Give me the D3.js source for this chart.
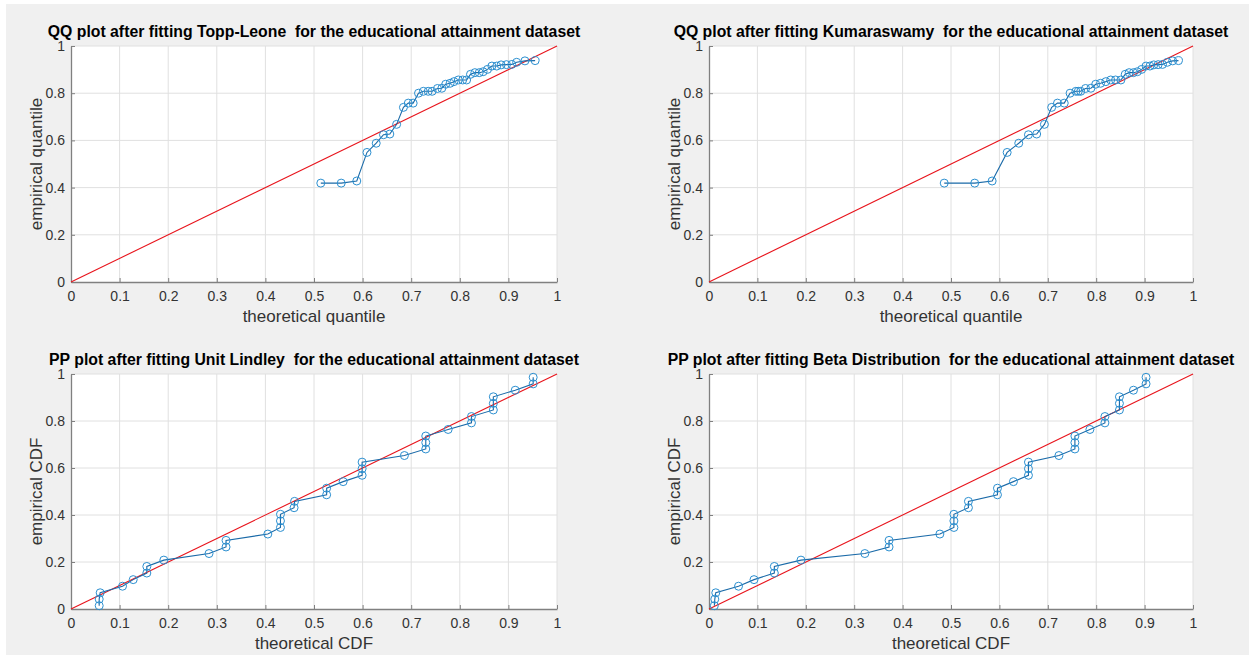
<!DOCTYPE html>
<html>
<head>
<meta charset="utf-8">
<script src="https://cdn.jsdelivr.net/npm/d3@7"></script>
<style>
  html, body { margin: 0; padding: 0; background: #ffffff; }
  svg { display: block; }
  text { font-family: "Liberation Sans", Arial, Helvetica, sans-serif; }
</style>
</head>
<body>
<svg id="fig" width="1249" height="655"></svg>
<script>
// Sorted educational attainment observations (empirical quantiles), n = 36
const empiricalQuantile = [
  0.419, 0.419, 0.428, 0.549, 0.588, 0.624, 0.627, 0.668, 0.740, 0.758, 0.758, 0.800,
  0.808, 0.808, 0.808, 0.820, 0.821, 0.838, 0.842, 0.849, 0.856, 0.856, 0.856, 0.880,
  0.887, 0.887, 0.891, 0.901, 0.915, 0.915, 0.920, 0.921, 0.922, 0.931, 0.937, 0.938
];
// Theoretical quantiles under the fitted Topp-Leone model
const toppLeoneQuantile = [
  0.514, 0.556, 0.588, 0.609, 0.628, 0.643, 0.656, 0.670, 0.684, 0.694, 0.704, 0.715,
  0.725, 0.735, 0.743, 0.754, 0.763, 0.771, 0.780, 0.788, 0.797, 0.806, 0.814, 0.822,
  0.831, 0.840, 0.848, 0.857, 0.866, 0.876, 0.885, 0.896, 0.907, 0.917, 0.934, 0.955
];
// Theoretical quantiles under the fitted Kumaraswamy model
const kumaraswamyQuantile = [
  0.486, 0.549, 0.585, 0.616, 0.640, 0.660, 0.677, 0.693, 0.708, 0.720, 0.734, 0.746,
  0.758, 0.763, 0.768, 0.778, 0.789, 0.799, 0.809, 0.820, 0.830, 0.840, 0.851, 0.860,
  0.868, 0.877, 0.885, 0.894, 0.903, 0.911, 0.919, 0.928, 0.937, 0.947, 0.958, 0.970
];
// Empirical CDF positions (i - 0.5) / 36
const empiricalCDF = [
  0.014, 0.042, 0.069, 0.097, 0.125, 0.153, 0.181, 0.208, 0.236, 0.264, 0.292, 0.319,
  0.347, 0.375, 0.403, 0.431, 0.458, 0.486, 0.514, 0.542, 0.569, 0.597, 0.625, 0.653,
  0.681, 0.708, 0.736, 0.764, 0.792, 0.819, 0.847, 0.875, 0.903, 0.931, 0.958, 0.986
];
// Fitted CDF values, Unit Lindley
const unitLindleyCDF = [
  0.058, 0.058, 0.060, 0.106, 0.128, 0.156, 0.156, 0.191, 0.284, 0.319, 0.319, 0.405,
  0.431, 0.431, 0.431, 0.459, 0.460, 0.526, 0.526, 0.560, 0.599, 0.599, 0.599, 0.686,
  0.730, 0.730, 0.730, 0.776, 0.824, 0.824, 0.869, 0.869, 0.869, 0.914, 0.951, 0.951
];
// Fitted CDF values, Beta distribution
const betaCDF = [
  0.011, 0.012, 0.014, 0.061, 0.093, 0.135, 0.135, 0.190, 0.322, 0.372, 0.372, 0.477,
  0.506, 0.506, 0.506, 0.536, 0.536, 0.596, 0.596, 0.629, 0.660, 0.660, 0.660, 0.723,
  0.756, 0.756, 0.756, 0.787, 0.818, 0.818, 0.848, 0.848, 0.848, 0.877, 0.903, 0.903
];

const xTicks = [0, 0.1, 0.2, 0.3, 0.4, 0.5, 0.6, 0.7, 0.8, 0.9, 1];
const yTicks = [0, 0.2, 0.4, 0.6, 0.8, 1];

const panels = [
  { title: "QQ plot after fitting Topp-Leone  for the educational attainment dataset",
    xlabel: "theoretical quantile", ylabel: "empirical quantile",
    xs: toppLeoneQuantile, ys: empiricalQuantile,
    box: { x0: 71, x1: 557, y0: 282, y1: 46 } },
  { title: "QQ plot after fitting Kumaraswamy  for the educational attainment dataset",
    xlabel: "theoretical quantile", ylabel: "empirical quantile",
    xs: kumaraswamyQuantile, ys: empiricalQuantile,
    box: { x0: 709, x1: 1193, y0: 282, y1: 46 } },
  { title: "PP plot after fitting Unit Lindley  for the educational attainment dataset",
    xlabel: "theoretical CDF", ylabel: "empirical CDF",
    xs: unitLindleyCDF, ys: empiricalCDF,
    box: { x0: 71, x1: 557, y0: 609, y1: 374 } },
  { title: "PP plot after fitting Beta Distribution  for the educational attainment dataset",
    xlabel: "theoretical CDF", ylabel: "empirical CDF",
    xs: betaCDF, ys: empiricalCDF,
    box: { x0: 709, x1: 1193, y0: 609, y1: 374 } }
];

const svg = d3.select("#fig");

// figure background
svg.append("rect").attr("x", 6).attr("y", 4).attr("width", 1243).attr("height", 651)
  .attr("fill", "#f0f0f0");

const axisColor = "#808080";
const textColor = "#333333";

panels.forEach(p => {
  const b = p.box;
  const x = d3.scaleLinear().domain([0, 1]).range([b.x0, b.x1]);
  const y = d3.scaleLinear().domain([0, 1]).range([b.y0, b.y1]);
  const g = svg.append("g");

  // plot area
  g.append("rect").attr("x", b.x0).attr("y", b.y1)
    .attr("width", b.x1 - b.x0).attr("height", b.y0 - b.y1).attr("fill", "#ffffff");

  // grid
  g.append("g").selectAll("line").data(xTicks.slice(1)).join("line")
    .attr("x1", d => x(d)).attr("x2", d => x(d)).attr("y1", b.y0).attr("y2", b.y1)
    .attr("stroke", "#e0e0e0").attr("stroke-width", 1);
  g.append("g").selectAll("line").data(yTicks.slice(1)).join("line")
    .attr("x1", b.x0).attr("x2", b.x1).attr("y1", d => y(d)).attr("y2", d => y(d))
    .attr("stroke", "#e0e0e0").attr("stroke-width", 1);

  // axes (ticks point inward)
  const xAxis = g.append("g").attr("transform", `translate(0,${b.y0})`)
    .call(d3.axisBottom(x).tickValues(xTicks).tickSizeInner(-4).tickSizeOuter(0)
      .tickPadding(9).tickFormat(d3.format("~g")));
  const yAxis = g.append("g").attr("transform", `translate(${b.x0},0)`)
    .call(d3.axisLeft(y).tickValues(yTicks).tickSizeInner(-4).tickSizeOuter(0)
      .tickPadding(6).tickFormat(d3.format("~g")));
  [xAxis, yAxis].forEach(a => {
    a.select(".domain").attr("stroke", axisColor).attr("stroke-width", 1.3);
    a.selectAll(".tick line").attr("stroke", axisColor).attr("stroke-width", 1);
    a.selectAll(".tick text").attr("fill", textColor).attr("font-size", 14)
      .attr("font-family", "'Liberation Sans', Arial, sans-serif");
  });
  xAxis.selectAll(".tick text").attr("dy", "0.71em");

  // reference line y = x
  g.append("line").attr("x1", x(0)).attr("y1", y(0)).attr("x2", x(1)).attr("y2", y(1))
    .attr("stroke", "#e8141c").attr("stroke-width", 1.1);

  // observed series
  const pts = p.xs.map((v, i) => [v, p.ys[i]]);
  g.append("path").datum(pts)
    .attr("d", d3.line().x(d => x(d[0])).y(d => y(d[1])))
    .attr("fill", "none").attr("stroke", "#1a6aa8").attr("stroke-width", 1.1);
  g.append("g").selectAll("circle").data(pts).join("circle")
    .attr("cx", d => x(d[0])).attr("cy", d => y(d[1])).attr("r", 4)
    .attr("fill", "none").attr("stroke", "#2b8fd0").attr("stroke-width", 1);

  // title
  g.append("text").attr("x", (b.x0 + b.x1) / 2).attr("y", b.y1 - 9)
    .attr("text-anchor", "middle").attr("font-size", 15.8).attr("font-weight", "bold")
    .attr("fill", "#000").style("white-space", "pre").text(p.title);

  // axis labels
  g.append("text").attr("x", (b.x0 + b.x1) / 2).attr("y", b.y0 + 40)
    .attr("text-anchor", "middle").attr("font-size", 17).attr("fill", textColor)
    .text(p.xlabel);
  g.append("text")
    .attr("transform", `translate(${b.x0 - 29},${(b.y0 + b.y1) / 2}) rotate(-90)`)
    .attr("text-anchor", "middle").attr("font-size", 17).attr("fill", textColor)
    .text(p.ylabel);
});
</script>
</body>
</html>
